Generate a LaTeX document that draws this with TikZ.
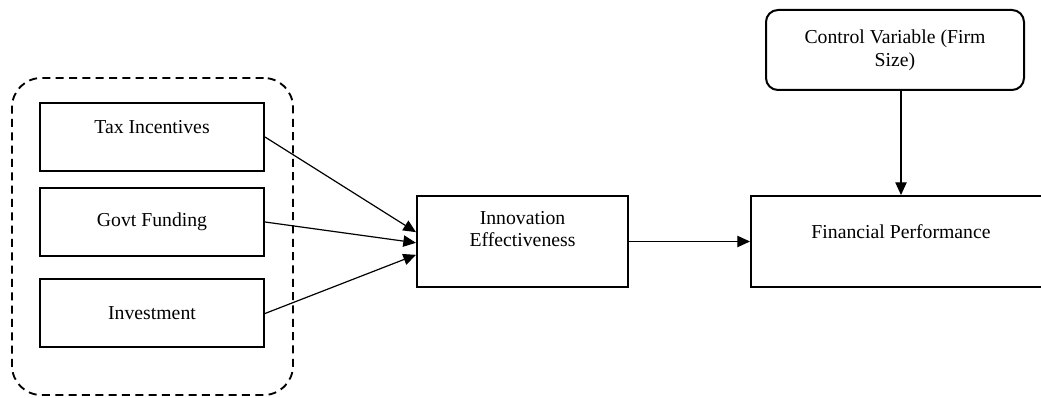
\documentclass[tikz,border=0pt]{standalone}
\usepackage{fontspec}
\setmainfont{Liberation Serif}
\usetikzlibrary{arrows.meta}
\tikzstyle{general} = [rectangle, draw=black, line width=1.5pt, align=center, font=\fontsize{14.8}{17}\selectfont, minimum width=168pt, minimum height=51pt]
\tikzstyle{raised} = [text height=9.8pt, text depth=15pt]
\tikzstyle{control} = [general, rounded corners=9pt, minimum width=193.5pt, minimum height=60pt]
\tikzstyle{group} = [rectangle, draw=black, line width=1.4pt, dash pattern=on 6pt off 4pt, rounded corners=22pt, minimum width=210.75pt, minimum height=237.75pt]
\tikzstyle{arrow} = [line width=0.9pt, -{Triangle[length=9.5pt,width=8.5pt]}]

\begin{document}
\begin{tikzpicture}
[x=0.75pt, y=-0.75pt]
\useasboundingbox (0,0) rectangle (1041,398);

\node (group) [group] at (152.5,236.5) {};
\node (tax) [general, raised] at (152,137) {Tax Incentives};
\node (govt) [general] at (152,222) {Govt Funding};
\node (invest) [general] at (152,313.5) {Investment};
\node (innov) [general, text height=9.8pt, text depth=1.6pt, minimum width=158.25pt, minimum height=68.25pt] at (522.5,241.5) {Innovation\\Effectiveness};
\node (fin) [general, raised, minimum width=225pt, minimum height=68.25pt] at (901,241.5) {Financial Performance};
\node (ctrl) [control] at (895,50) {Control Variable (Firm\\Size)};

\draw [arrow] (tax.east) -- ([yshift=7pt]innov.west);
\draw [arrow] (govt.east) -- ([yshift=-1pt]innov.west);
\draw [arrow] (invest.east) -- ([yshift=-10pt]innov.west);
\draw [arrow] (innov.east) -- (fin.west);
\draw [arrow] (ctrl.south -| fin.north) -- (fin.north);

\end{tikzpicture}
\end{document}
